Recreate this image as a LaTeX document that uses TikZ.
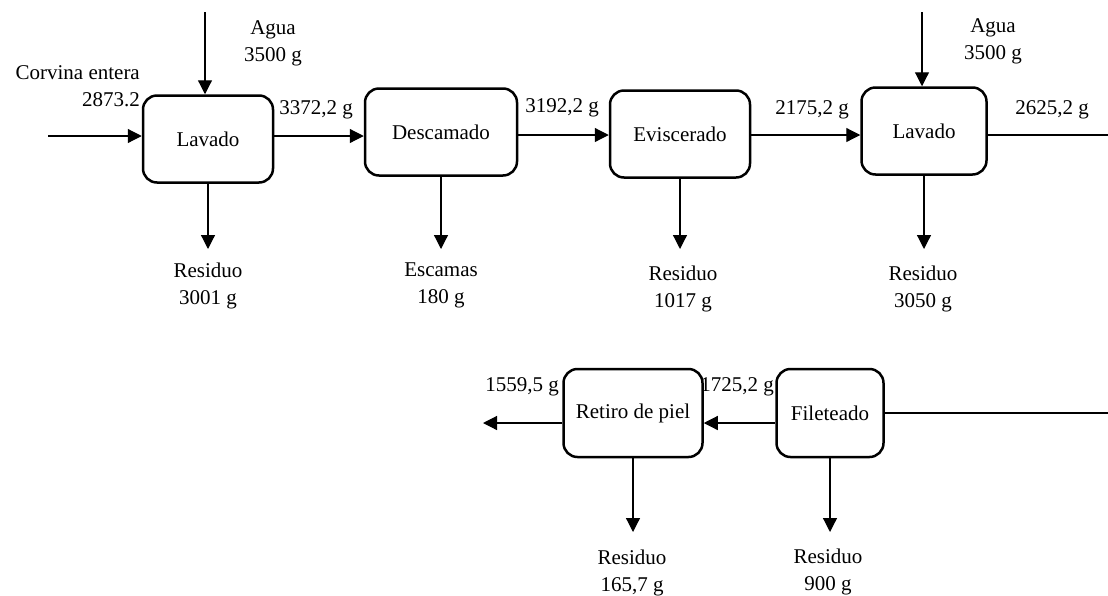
\documentclass[tikz,border=0pt]{standalone}
\usepackage{fontspec}
\setmainfont{Liberation Serif}
\usetikzlibrary{arrows.meta,positioning}

\begin{document}
\begin{tikzpicture}[x=1pt, y=-1pt, line join=round, >={Triangle[length=14pt,width=14pt]},
	font=\fontsize{21}{27}\selectfont,
	proc/.style={draw, line width=2.5pt, rounded corners=14pt, inner sep=0pt, minimum height=87pt},
	flujo/.style={->, line width=1.2pt},
	linea/.style={line width=1.2pt},
	dato/.style={align=center, inner sep=0pt}]
	\useasboundingbox (0,0) rectangle (1108,595);
	% procesos
	\node[proc, minimum width=130pt] (lav1) at (208,139) {Lavado};
	\node[proc, minimum width=152pt] (desc) at (441,132) {Descamado};
	\node[proc, minimum width=140pt] (evis) at (680,134) {Eviscerado};
	\node[proc, minimum width=125pt] (lav2) at (924,131) {Lavado};
	\node[proc, minimum width=139pt, minimum height=88pt] (ret) at (633,413) {Retiro de piel};
	\node[proc, minimum width=107pt, minimum height=88pt] (fil) at (830,413) {Fileteado};
	% puntos libres
	\path
	(205,12) coordinate (agua1)
	(922,12) coordinate (agua2)
	(48,136) coordinate (corv)
	(1108,135) coordinate (sal)
	(1108,413) coordinate (ent)
	(483,423) coordinate (fin)
	(0,249) coordinate (nivel1)
	(0,532) coordinate (nivel2)
	;
	% datos
	\node[dato, align=right, anchor=east] (tcorv) at (140,86) {Corvina entera\\2873.2};
	\node[dato] (tagua1) at (273,43) {Agua\\3500 g};
	\node[dato] (tagua2) at (993,41) {Agua\\3500 g};
	\node[dato] (t1) at (316,110) {3372,2 g};
	\node[dato] (t2) at (562,108) {3192,2 g};
	\node[dato] (t3) at (812,110) {2175,2 g};
	\node[dato] (t4) at (1052,110) {2625,2 g};
	\node[dato] (t5) at (737,387) {1725,2 g};
	\node[dato] (t6) at (522,387) {1559,5 g};
	\node[dato] (res1) at (208,286) {Residuo\\3001 g};
	\node[dato] (esc) at (441,285) {Escamas\\180 g};
	\node[dato] (res2) at (683,289) {Residuo\\1017 g};
	\node[dato] (res3) at (923,289) {Residuo\\3050 g};
	\node[dato] (res4) at (632,573) {Residuo\\165,7 g};
	\node[dato] (res5) at (828,572) {Residuo\\900 g};
	% entradas
	\draw[flujo] (corv) -- (corv -| lav1.west);
	\draw[flujo] (agua1) -- (agua1 |- lav1.north);
	\draw[flujo] (agua2) -- (agua2 |- lav2.north);
	% linea principal
	\draw[flujo] (lav1.east |- corv) -- (desc.west |- corv);
	\draw[flujo] (desc.east |- sal) -- (evis.west |- sal);
	\draw[flujo] (evis.east |- sal) -- (lav2.west |- sal);
	\draw[linea] (lav2.east |- sal) -- (sal);
	\draw[linea] (ent) -- (ent -| fil.east);
	\draw[flujo] (fil.west |- fin) -- (ret.east |- fin);
	\draw[flujo] (ret.west |- fin) -- (fin);
	% salidas
	\draw[flujo] (lav1.south) -- (lav1.south |- nivel1);
	\draw[flujo] (desc.south) -- (desc.south |- nivel1);
	\draw[flujo] (evis.south) -- (evis.south |- nivel1);
	\draw[flujo] (lav2.south) -- (lav2.south |- nivel1);
	\draw[flujo] (ret.south) -- (ret.south |- nivel2);
	\draw[flujo] (fil.south) -- (fil.south |- nivel2);
\end{tikzpicture}
\end{document}
